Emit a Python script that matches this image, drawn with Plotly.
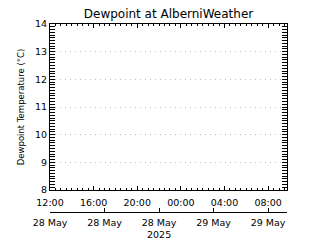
import plotly.graph_objects as go

# Data (the reference chart shows no plotted observations)
times = []
dewpoint = []

x_start = "2025-05-28 12:00"
x_end = "2025-05-29 09:44"

time_tickvals = ["2025-05-28 12:00", "2025-05-28 16:00", "2025-05-28 20:00",
                 "2025-05-29 00:00", "2025-05-29 04:00", "2025-05-29 08:00"]
time_ticktext = ["12:00", "16:00", "20:00", "00:00", "04:00", "08:00"]

date_tickvals = ["2025-05-28 12:00", "2025-05-28 17:00", "2025-05-28 22:00",
                 "2025-05-29 03:00", "2025-05-29 08:00"]
date_ticktext = ["28 May", "28 May", "28 May", "29 May", "29 May"]
year_label = "2025"

y_min, y_max = 8, 14

FONT = "DejaVu Sans"

fig = go.Figure()
fig.add_trace(go.Scatter(x=times, y=dewpoint, mode="lines",
                         line=dict(color="black"), xaxis="x", yaxis="y",
                         showlegend=False))
fig.add_trace(go.Scatter(x=times, y=dewpoint, mode="lines",
                         xaxis="x2", yaxis="y", showlegend=False))

W, H = 320, 240
L, R, T, B = 50, 33, 24, 0
plot_h = H - T - B
bottom_y = 190
y_dom0 = (H - bottom_y - B) / plot_h
date_axis_y = 212
pos2 = (H - date_axis_y - B) / plot_h

fig.add_annotation(x=date_tickvals[2], xref="x2", y=(H - 234) / plot_h,
                   yref="paper", text=year_label, showarrow=False,
                   xanchor="center", yanchor="middle",
                   font=dict(family=FONT, size=9.5, color="black"))

fig.update_layout(
    width=W, height=H,
    margin=dict(l=L, r=R, t=T, b=B, autoexpand=False),
    paper_bgcolor="white", plot_bgcolor="white",
    font=dict(family=FONT, size=9.5, color="black"),
    title=dict(text="Dewpoint at AlberniWeather", x=(L + 287) / 2 / W,
               xanchor="center", y=1 - 14 / H, yanchor="middle",
               font=dict(family=FONT, size=12, color="black")),
    showlegend=False,
    xaxis=dict(
        type="date", range=[x_start, x_end], domain=[0, 1],
        anchor="y", side="bottom",
        tickmode="array", tickvals=time_tickvals, ticktext=time_ticktext,
        ticks="inside", ticklen=4, tickcolor="black", tickwidth=1,
        ticklabelstandoff=4,
        minor=dict(dtick=30 * 60 * 1000, ticks="inside", ticklen=2,
                   tickcolor="black", showgrid=False),
        showline=True, linecolor="black", linewidth=1, mirror="allticks",
        showgrid=False, zeroline=False, automargin=False,
        tickfont=dict(family=FONT, size=9.5, color="black"),
    ),
    xaxis2=dict(
        type="date", range=[x_start, x_end], overlaying="x",
        anchor="free", position=pos2, side="bottom",
        tickmode="array", tickvals=date_tickvals, ticktext=date_ticktext,
        ticks="inside", ticklen=4, tickcolor="black", tickwidth=1,
        ticklabelstandoff=2,
        showline=True, linecolor="black", linewidth=1,
        showgrid=False, zeroline=False, automargin=False,
        tickfont=dict(family=FONT, size=9.5, color="black"),
    ),
    yaxis=dict(
        range=[y_min, y_max], domain=[y_dom0, 1],
        tickmode="linear", tick0=8, dtick=1,
        ticks="inside", ticklen=5, tickcolor="black", tickwidth=1,
        minor=dict(dtick=0.1, ticks="inside", ticklen=2,
                   tickcolor="black", showgrid=False),
        showline=True, linecolor="black", linewidth=1, mirror="allticks",
        showgrid=True, gridcolor="#bdbdbd", griddash="1px,4px", gridwidth=1,
        zeroline=False, automargin=False,
        title=dict(text="Dewpoint Temperature (°C)", standoff=9,
                   font=dict(family=FONT, size=8.5, color="black")),
        tickfont=dict(family=FONT, size=9.5, color="black"),
    ),
)

fig.write_html("out.html")
